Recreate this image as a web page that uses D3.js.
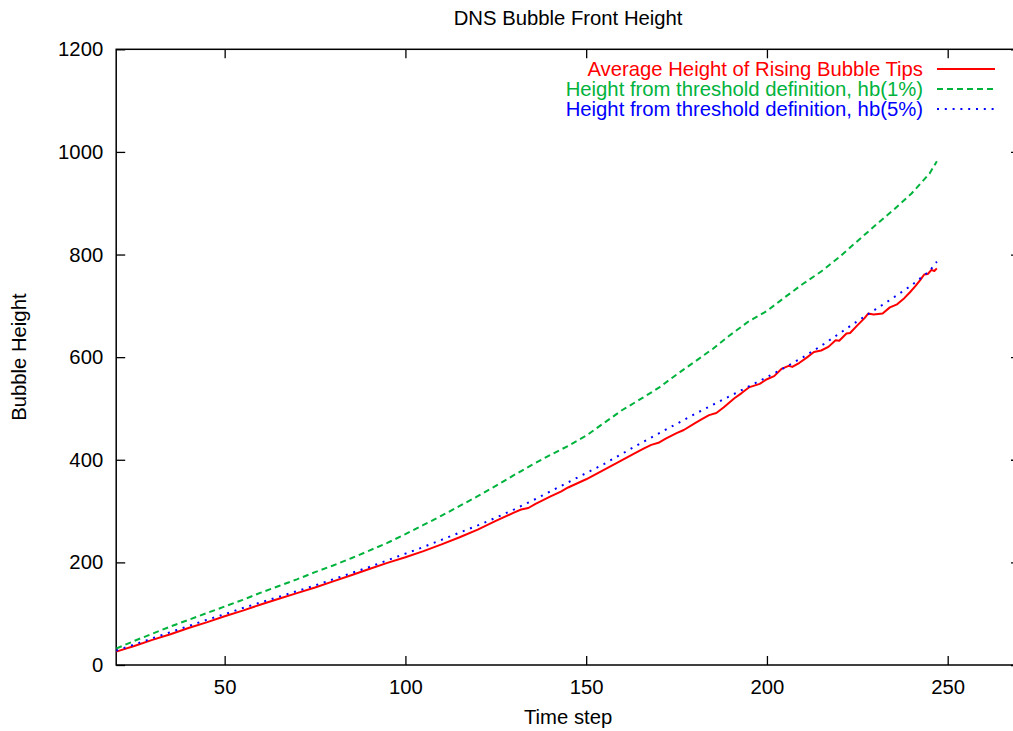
<!DOCTYPE html>
<html><head><meta charset="utf-8">
<script src="https://cdn.jsdelivr.net/npm/d3@7"></script>
<style>
html,body{margin:0;padding:0;background:#fff;}
svg{display:block;}
text{font-family:"Liberation Sans",Arial,Helvetica,sans-serif;}
</style></head>
<body>
<svg id="chart" width="1013" height="731"></svg>
<script>
// ---- data ----
const title = "DNS Bubble Front Height";
const xLabel = "Time step";
const yLabel = "Bubble Height";
const xTicks = [50, 100, 150, 200, 250];
const yTicks = [0, 200, 400, 600, 800, 1000, 1200];
const xDomain = [20, 270];
const yDomain = [0, 1200];

const seriesNames = [
  "Average Height of Rising Bubble Tips",
  "Height from threshold definition, hb(1%)",
  "Height from threshold definition, hb(5%)"
];

// Average height of rising bubble tips (red)
const tipsX = [20,25,30,35,40,45,50,55,60,65,70,75,80,85,90,95,100,105,110,115,120,125,130,132,134,136,140,143,145,150,154,158,163,166,168,170,172,175,177,180,182,184,186,188,191,193,195,198,200,202,204,206,207,209,211,213,215,217,219,220,222,223,225,227,228,229.5,232,234,236,238,239.5,241,242.5,243.5,244.5,245.5,246.3,247];
const tipsY = [26,37,49,60,72,83,95,106,118,129,140,151,163,175,187,199,210,222,235,249,264,281,297,303,306,314,328,338,346,362,377,392,411,422,429,433,441,452,458,471,479,487,491,502,520,530,541,548,557,563,577,583,581,589,599,610,613,620,633,632,646,647,662,676,685,683,685,697,703,715,726,738,751,761,762,770,768,773];

// Threshold definition hb(1%) (green)
const hb1X = [20,25,30,35,40,45,50,55,60,65,70,75,80,85,90,95,100,105,110,115,120,125,130,135,140,145,150,155,160,165,170,175,180,185,190,195,200,205,210,215,220,225,230,235,240,245,247];
const hb1Y = [32,47,61,75,88,101,114,127,141,154,167,181,194,208,223,238,255,273,291,310,329,349,370,390,409,427,447,472,497,518,540,566,591,616,644,670,690,717,743,767,795,826,857,887,919,958,982];

// Threshold definition hb(5%) (blue)
const hb5X = [20,25,30,35,40,45,50,55,60,65,70,75,80,85,90,95,100,105,110,115,120,125,130,135,140,145,150,155,160,165,170,175,180,185,190,195,200,205,210,215,220,225,230,235,240,245,247];
const hb5Y = [28,40,52,64,76,88,99,111,122,133,144,155,167,179,191,204,217,230,244,258,272,287,303,320,338,356,374,392,412,432,451,470,489,507,525,543,561,580,600,622,646,670,693,716,740,768,786];

const colors = ["#ff0000", "#00b33c", "#0000ff"];
const dashes = [null, "6,4", "2,5.8"];

// ---- layout ----
const L = 116.2, R = 1020, T = 49.3, B = 665;
const svg = d3.select("#chart");
const x = d3.scaleLinear().domain(xDomain).range([L, R]);
const y = d3.scaleLinear().domain(yDomain).range([B, T]);
const FS = 20.3;

svg.append("defs").append("clipPath").attr("id","clip")
  .append("rect").attr("x",L).attr("y",T).attr("width",R-L).attr("height",B-T);

// axes (inward ticks, gnuplot style)
const gx = svg.append("g").attr("transform",`translate(0,${B})`)
  .call(d3.axisBottom(x).tickValues(xTicks).tickSize(-9).tickPadding(15).tickFormat(d3.format("d")));
const gxTop = svg.append("g").attr("transform",`translate(0,${T})`)
  .call(d3.axisTop(x).tickValues(xTicks).tickSize(-9).tickFormat(""));
const gy = svg.append("g").attr("transform",`translate(${L},0)`)
  .call(d3.axisLeft(y).tickValues(yTicks).tickSize(-9).tickPadding(13).tickFormat(d3.format("d")));
const gyR = svg.append("g").attr("transform",`translate(${R},0)`)
  .call(d3.axisRight(y).tickValues(yTicks).tickSize(-9).tickFormat(""));
[gx,gxTop,gy,gyR].forEach(g=>{
  g.select(".domain").remove();
  g.selectAll(".tick line").attr("stroke","#000").attr("stroke-width",1.3);
  g.selectAll(".tick text").attr("fill","#000").style("font-size",FS+"px")
    .style("font-family","'Liberation Sans', Arial, sans-serif");
});
svg.append("rect").attr("x",L).attr("y",T).attr("width",R-L).attr("height",B-T)
  .attr("fill","none").attr("stroke","#000").attr("stroke-width",1.5);

// lines
const series = [
  {xs: tipsX, ys: tipsY},
  {xs: hb1X, ys: hb1Y},
  {xs: hb5X, ys: hb5Y}
];
const line = d3.line().x(d=>x(d[0])).y(d=>y(d[1]));
const plot = svg.append("g").attr("clip-path","url(#clip)");
series.forEach((s,i)=>{
  const pts = s.xs.map((v,k)=>[v, s.ys[k]]);
  plot.append("path").datum(pts).attr("d",line)
    .attr("fill","none").attr("stroke",colors[i]).attr("stroke-width",2)
    .attr("stroke-dasharray",dashes[i]).attr("stroke-linejoin","round");
});

// legend
const legY = [69, 89, 109];
seriesNames.forEach((name,i)=>{
  svg.append("text").attr("x",923).attr("y",legY[i]).attr("dy","0.35em")
    .attr("text-anchor","end").attr("fill",colors[i]).style("font-size",FS+"px").text(name);
  svg.append("line").attr("x1",937).attr("x2",995).attr("y1",legY[i]).attr("y2",legY[i])
    .attr("stroke",colors[i]).attr("stroke-width",2).attr("stroke-dasharray",dashes[i]);
});

// title & axis labels
svg.append("text").attr("x",(L+R)/2).attr("y",18).attr("dy","0.35em")
  .attr("text-anchor","middle").style("font-size",FS+"px").text(title);
svg.append("text").attr("x",(L+R)/2).attr("y",717).attr("dy","0.35em")
  .attr("text-anchor","middle").style("font-size",FS+"px").text(xLabel);
svg.append("text").attr("transform",`translate(19,${(T+B)/2}) rotate(-90)`).attr("dy","0.35em")
  .attr("text-anchor","middle").style("font-size",FS+"px").text(yLabel);
</script>
</body></html>
